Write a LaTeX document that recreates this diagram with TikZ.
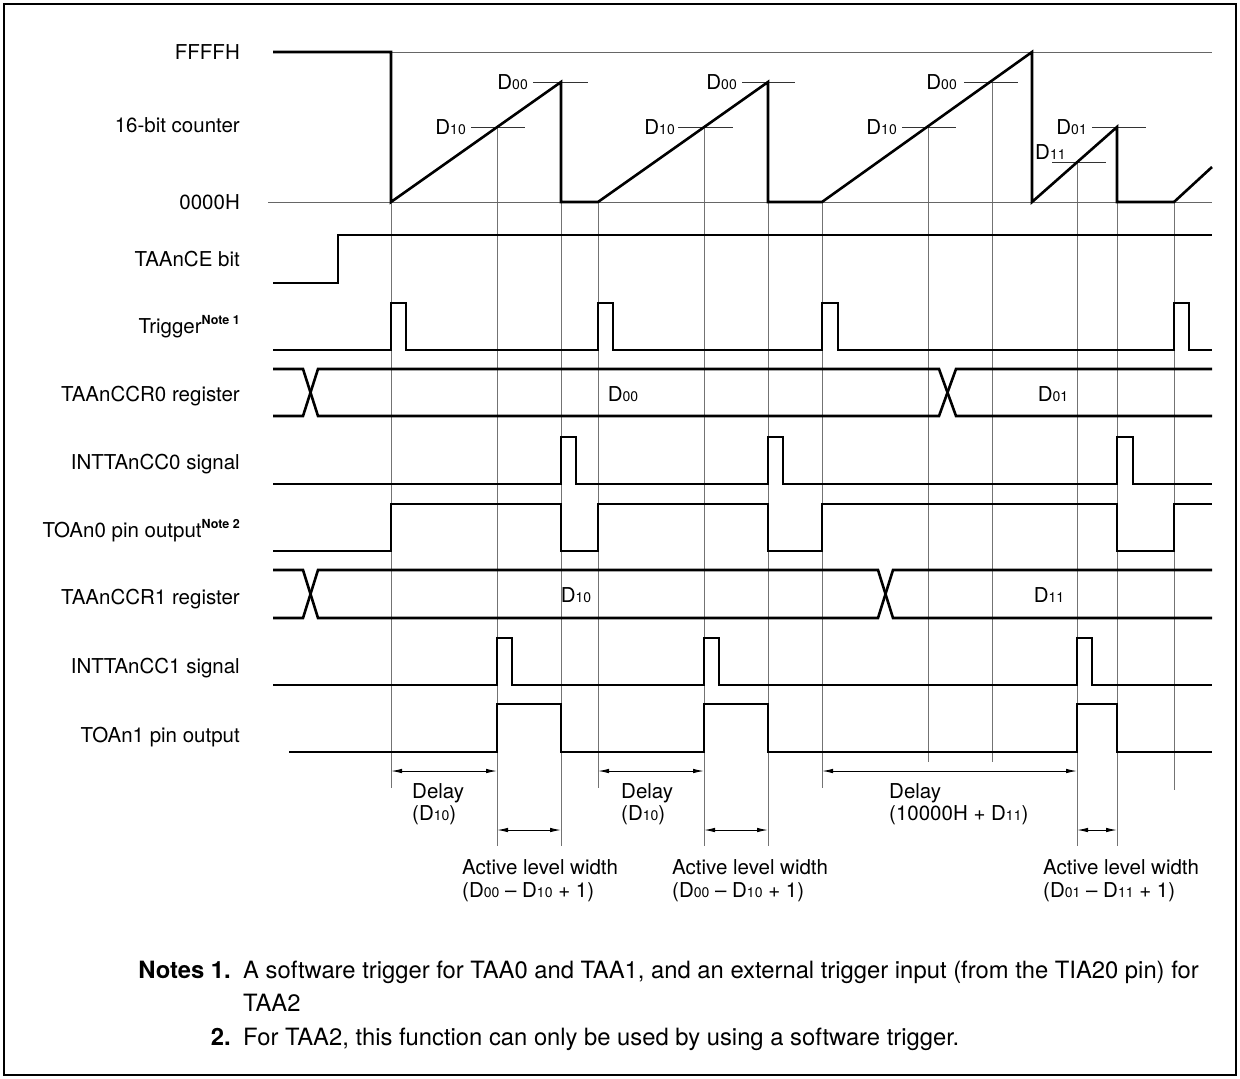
\documentclass[tikz,border=0pt]{standalone}
\usepackage{fontspec}
\setmainfont{TeX Gyre Heros}
\usetikzlibrary{arrows.meta}
\newcommand{\Dlab}[1]{D{\fontsize{14}{14}\selectfont #1}}
\newcommand{\NoteSup}[1]{\raisebox{0.42em}{\fontsize{12.5}{12}\selectfont\bfseries #1}}
\begin{document}
\begin{tikzpicture}[x=1pt,y=-1pt,
  sig/.style={line width=2.6pt, line join=miter},
  gridl/.style={line width=1pt, black!55},
  refl/.style={line width=1pt, black!60},
  tickl/.style={line width=1pt, black!80},
  lab/.style={anchor=base east, font=\fontsize{20.5}{24}\selectfont, inner sep=0pt},
  txt/.style={anchor=base west, font=\fontsize{20.5}{24}\selectfont, inner sep=0pt},
  val/.style={anchor=base, font=\fontsize{20.5}{24}\selectfont, inner sep=0pt},
  note/.style={anchor=base west, font=\fontsize{23.8}{28}\selectfont, inner sep=0pt},
  notenum/.style={anchor=base east, font=\fontsize{23.8}{28}\selectfont\bfseries, inner sep=0pt},
  dimarrow/.style={line width=1pt, {Latex[length=11pt,width=4.5pt]}-{Latex[length=11pt,width=4.5pt]}},
]
\useasboundingbox (0,0) rectangle (1240,1079);
% frame
\draw[line width=2.5pt] (4,4) rectangle (1236,1075);

% vertical guide lines
\foreach \x/\a/\b in {391/202/788, 497/127/846, 561/202/846, 598/202/788,
  704/127/846, 768/202/846, 822/202/788, 928/127/762, 992/82/762,
  1077/162/846, 1117/202/846, 1174/202/790}
  \draw[gridl] (\x,\a) -- (\x,\b);

% reference lines of the counter
\draw[refl] (391,52) -- (1212,52);
\draw[refl] (268,202) -- (1212,202);

% level ticks
\draw[tickl] (471,127) -- (525,127);
\draw[tickl] (533,82) -- (588,82);
\draw[tickl] (678,127) -- (733,127);
\draw[tickl] (742,82) -- (795,82);
\draw[tickl] (902,127) -- (956,127);
\draw[tickl] (964,82) -- (1018,82);
\draw[tickl] (1092,127) -- (1146,127);
\draw[tickl] (1052,162) -- (1106,162);

% counter
\draw[sig] (273,52) -- (391,52) -- (391,202) -- (561,82) -- (561,202) -- (598,202)
  -- (768,82) -- (768,202) -- (822,202) -- (1032,52) -- (1032,202) -- (1117,127)
  -- (1117,202) -- (1174,202) -- (1212,167);

% counter level labels
\node[lab] (d10a) at (466,134.5) {\Dlab{10}};
\node[lab] (d00a) at (528,89.5) {\Dlab{00}};
\node[lab] (d10b) at (675,134.5) {\Dlab{10}};
\node[lab] (d00b) at (737,89.5) {\Dlab{00}};
\node[lab] (d10c) at (897,134.5) {\Dlab{10}};
\node[lab] (d00c) at (957,89.5) {\Dlab{00}};
\node[lab] (d01d) at (1087,134.5) {\Dlab{01}};
\node[txt] (d11d) at (1035,159) {\Dlab{11}};

% TAAnCE bit
\draw[sig] (273,283) -- (338,283) -- (338,235) -- (1212,235);

% Trigger
\draw[sig] (273,350) -- (391,350) -- (391,303) -- (406,303) -- (406,350)
  -- (598,350) -- (598,303) -- (613,303) -- (613,350)
  -- (822,350) -- (822,303) -- (838,303) -- (838,350)
  -- (1174,350) -- (1174,303) -- (1189,303) -- (1189,350) -- (1212,350);

% TAAnCCR0 register
\draw[sig] (273,369) -- (303,369) -- (318,416) -- (939,416) -- (956,369) -- (1212,369);
\draw[sig] (273,416) -- (303,416) -- (318,369) -- (939,369) -- (956,416) -- (1212,416);
\node[val] (r0a) at (623,401.5) {\Dlab{00}};
\node[val] (r0b) at (1053,401.5) {\Dlab{01}};

% INTTAnCC0
\draw[sig] (273,484) -- (561,484) -- (561,437) -- (576,437) -- (576,484)
  -- (768,484) -- (768,437) -- (783,437) -- (783,484)
  -- (1117,484) -- (1117,437) -- (1133,437) -- (1133,484) -- (1212,484);

% TOAn0
\draw[sig] (273,551) -- (391,551) -- (391,504) -- (561,504) -- (561,551) -- (598,551)
  -- (598,504) -- (768,504) -- (768,551) -- (822,551) -- (822,504) -- (1117,504)
  -- (1117,551) -- (1174,551) -- (1174,504) -- (1212,504);

% TAAnCCR1 register
\draw[sig] (273,570) -- (303,570) -- (318,618) -- (878,618) -- (893,570) -- (1212,570);
\draw[sig] (273,618) -- (303,618) -- (318,570) -- (878,570) -- (893,618) -- (1212,618);
\node[val] (r1a) at (576,602.5) {\Dlab{10}};
\node[val] (r1b) at (1049,602.5) {\Dlab{11}};

% INTTAnCC1
\draw[sig] (273,685) -- (497,685) -- (497,638) -- (512,638) -- (512,685)
  -- (704,685) -- (704,638) -- (719,638) -- (719,685)
  -- (1077,685) -- (1077,638) -- (1092,638) -- (1092,685) -- (1212,685);

% TOAn1
\draw[sig] (289,752) -- (497,752) -- (497,704) -- (561,704) -- (561,752)
  -- (704,752) -- (704,704) -- (768,704) -- (768,752)
  -- (1077,752) -- (1077,704) -- (1117,704) -- (1117,752) -- (1212,752);

% signal names
\node[lab] (lffff) at (240,59.5) {FFFFH};
\node[lab] (lcnt) at (240,132.5) {16-bit counter};
\node[lab] (l0000) at (240,209.5) {0000H};
\node[lab] (lce) at (240,266.5) {TAAnCE bit};
\node[lab] (ltrg) at (240,333.5) {Trigger\NoteSup{Note 1}};
\node[lab] (lccr0) at (240,401.5) {TAAnCCR0 register};
\node[lab] (lint0) at (240,469.5) {INTTAnCC0 signal};
\node[lab] (lto0) at (240,537.5) {TOAn0 pin output\NoteSup{Note 2}};
\node[lab] (lccr1) at (240,604.5) {TAAnCCR1 register};
\node[lab] (lint1) at (240,673.5) {INTTAnCC1 signal};
\node[lab] (lto1) at (240,742.5) {TOAn1 pin output};

% dimension arrows
\coordinate (da1) at (391,771); \coordinate (db1) at (497,771);
\coordinate (da2) at (598,771); \coordinate (db2) at (704,771);
\coordinate (da3) at (822,771); \coordinate (db3) at (1077,771);
\coordinate (wa1) at (497,830); \coordinate (wb1) at (561,830);
\coordinate (wa2) at (704,830); \coordinate (wb2) at (768,830);
\coordinate (wa3) at (1077,830); \coordinate (wb3) at (1117,830);
\draw[dimarrow] (da1) -- (db1);
\draw[dimarrow] (da2) -- (db2);
\draw[dimarrow] (da3) -- (db3);
\draw[dimarrow] (wa1) -- (wb1);
\draw[dimarrow] (wa2) -- (wb2);
\draw[dimarrow] (wa3) -- (wb3);

\node[txt] (dl1) at (412,798) {Delay};
\node[txt] (dv1) at (412,820) {(\Dlab{10})};
\node[txt] (dl2) at (621,798) {Delay};
\node[txt] (dv2) at (621,820) {(\Dlab{10})};
\node[txt] (dl3) at (889,798) {Delay};
\node[txt] (dv3) at (889,820) {(10000H + \Dlab{11})};

\node[txt] (al1) at (462,874) {Active level width};
\node[txt] (av1) at (462,897) {(\Dlab{00} – \Dlab{10} + 1)};
\node[txt] (al2) at (672,874) {Active level width};
\node[txt] (av2) at (672,897) {(\Dlab{00} – \Dlab{10} + 1)};
\node[txt] (al3) at (1043,874) {Active level width};
\node[txt] (av3) at (1043,897) {(\Dlab{01} – \Dlab{11} + 1)};

% notes
\node[notenum] (n1) at (231,978.5) {Notes 1.};
\node[note] (t1) at (243,978.5) {A software trigger for TAA0 and TAA1, and an external trigger input (from the TIA20 pin) for};
\node[note] (t1b) at (243,1011.5) {TAA2};
\node[notenum] (n2) at (231,1045) {2.};
\node[note] (t2) at (243,1045) {For TAA2, this function can only be used by using a software trigger.};
\end{tikzpicture}
\end{document}
